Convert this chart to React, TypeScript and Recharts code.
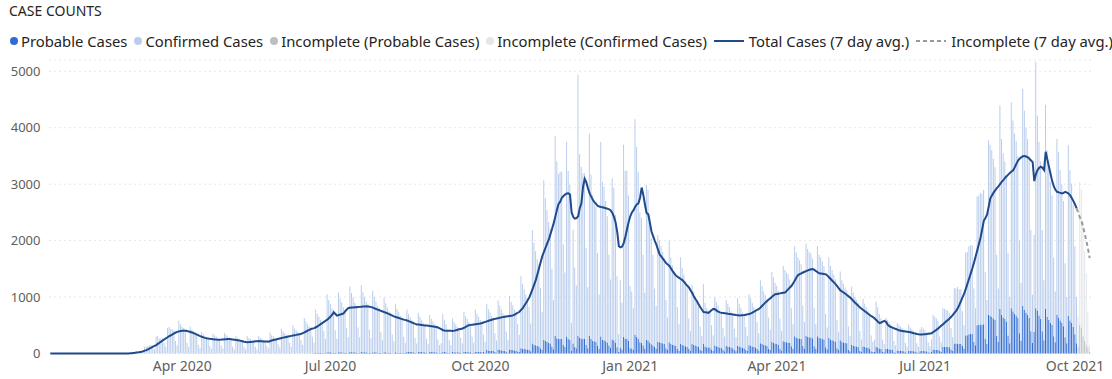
import { ComposedChart, Bar, Line, XAxis, YAxis, CartesianGrid } from "recharts";

document.body.style.margin = "0";

// one value per day, first day 2020-01-11; rows of 7 run Sat..Fri
const FIRST_DAY = Date.UTC(2020, 0, 11);

const probableCases = [
  0, 0, 0, 0, 0, 0, 0, 0, 0, 0, 0, 0, 0, 0,
  0, 0, 0, 0, 0, 0, 0, 0, 0, 0, 0, 0, 0, 0,
  0, 0, 0, 0, 0, 0, 0, 0, 0, 0, 0, 0, 0, 0,
  0, 0, 0, 0, 0, 0, 0, 0, 0, 0, 0, 0, 0, 0,
  0, 0, 0, 0, 0, 0, 0, 0, 0, 0, 0, 0, 0, 0,
  0, 0, 0, 0, 0, 0, 0, 0, 0, 0, 0, 0, 0, 0,
  0, 0, 0, 0, 0, 0, 0, 0, 0, 0, 0, 0, 0, 0,
  0, 0, 0, 0, 0, 0, 0, 0, 0, 0, 0, 0, 0, 0,
  0, 0, 0, 0, 0, 0, 0, 0, 0, 0, 0, 0, 0, 0,
  0, 0, 0, 0, 0, 0, 0, 0, 0, 0, 0, 0, 0, 0,
  0, 0, 0, 0, 0, 0, 0, 0, 0, 0, 0, 0, 0, 0,
  0, 0, 0, 0, 0, 0, 0,
  5, 5, 15, 15, 15, 10, 10,
  10, 5, 20, 20, 20, 15, 15,
  10, 5, 20, 20, 20, 15, 15,
  10, 5, 25, 20, 20, 20, 15,
  10, 5, 25, 20, 20, 20, 15,
  10, 5, 20, 20, 20, 15, 15,
  10, 5, 20, 20, 15, 15, 15,
  5, 5, 20, 15, 15, 15, 15,
  10, 10, 30, 30, 25, 25, 20,
  10, 5, 30, 25, 25, 20, 20,
  10, 5, 25, 25, 25, 20, 20,
  10, 5, 10, 30, 25, 20, 15,
  10, 5, 25, 20, 20, 20, 20,
  10, 5, 30, 25, 25, 20, 20,
  10, 10, 30, 30, 25, 25, 20,
  25, 15, 60, 55, 50, 45, 45,
  25, 15, 65, 60, 55, 50, 50,
  25, 15, 70, 65, 60, 55, 50,
  35, 25, 95, 85, 80, 75, 70,
  65, 40, 175, 155, 145, 135, 125,
  95, 60, 245, 220, 205, 185, 175,
  120, 75, 310, 270, 255, 260, 260,
  155, 115, 300, 260, 240, 45, 175,
  120, 95, 310, 280, 265, 255, 255,
  150, 95, 310, 255, 225, 215, 210,
  140, 85, 300, 245, 235, 215, 195,
  140, 105, 250, 235, 195, 110, 25,
  105, 70, 295, 260, 260, 225, 95,
  90, 65, 330, 295, 260, 200, 190,
  140, 85, 240, 230, 195, 165, 140,
  115, 85, 210, 200, 190, 180, 170,
  95, 65, 200, 170, 155, 145, 135,
  80, 50, 170, 150, 140, 130, 115,
  85, 55, 170, 155, 140, 130, 115,
  65, 45, 170, 125, 110, 105, 105,
  70, 45, 140, 130, 120, 105, 100,
  65, 40, 135, 125, 115, 105, 95,
  60, 40, 135, 125, 110, 100, 95,
  65, 45, 145, 135, 125, 115, 105,
  80, 50, 180, 170, 155, 145, 135,
  90, 60, 205, 190, 175, 170, 155,
  85, 55, 215, 205, 200, 195, 185,
  130, 85, 305, 285, 270, 265, 255,
  135, 90, 310, 295, 290, 285, 270,
  130, 85, 305, 280, 270, 260, 250,
  110, 75, 275, 250, 235, 225, 210,
  95, 60, 235, 210, 195, 185, 180,
  60, 40, 155, 140, 130, 125, 115,
  50, 35, 125, 115, 105, 100, 90,
  40, 25, 30, 120, 105, 90, 80,
  35, 20, 80, 80, 75, 70, 60,
  20, 15, 55, 50, 50, 45, 40,
  20, 10, 50, 45, 45, 40, 35,
  20, 10, 40, 45, 45, 40, 40,
  20, 15, 25, 70, 65, 60, 60,
  45, 30, 120, 120, 115, 115, 110,
  70, 45, 175, 175, 175, 170, 170,
  135, 90, 320, 325, 340, 345, 345,
  205, 145, 500, 505, 515, 510, 520,
  260, 170, 680, 665, 650, 620, 595,
  315, 205, 790, 685, 640, 610, 565,
  320, 180, 800, 745, 700, 675, 630,
  360, 225, 845, 775, 720, 685, 630,
  395, 185, 380, 800, 760, 675, 610,
  395, 235, 795, 650, 600, 545, 505,
  305, 200, 685, 640, 585, 540, 485,
  290, 180, 665, 585, 540, 475, 340,
  180,
];

const confirmedCases = [
  0, 0, 0, 0, 0, 0, 0, 0, 0, 0, 0, 0, 0, 0,
  0, 0, 0, 0, 0, 0, 0, 0, 0, 0, 0, 0, 0, 0,
  0, 0, 0, 0, 0, 0, 0, 0, 0, 0, 0, 0, 0, 0,
  0, 0, 1, 2, 3, 4, 4,
  8, 5, 30, 32, 34, 35, 38,
  40, 25, 120, 125, 135, 140, 150,
  120, 80, 300, 310, 260, 270, 270,
  180, 120, 450, 470, 440, 430, 410,
  220, 140, 580, 520, 480, 450, 424,
  190, 120, 480, 430, 400, 370, 348,
  150, 95, 380, 340, 315, 290, 278,
  135, 85, 355, 320, 295, 270, 255,
  140, 88, 365, 330, 300, 280, 261,
  120, 75, 315, 280, 260, 240, 222,
  118, 75, 305, 275, 255, 235, 221,
  115, 72, 310, 280, 255, 230, 222,
  135, 90, 370, 325, 305, 275, 264,
  165, 105, 435, 390, 360, 330, 315,
  190, 120, 500, 445, 410, 375, 354,
  240, 150, 630, 565, 520, 480, 460,
  295, 185, 765, 685, 635, 585, 555,
  390, 250, 1030, 930, 860, 785, 760,
  400, 255, 1060, 950, 880, 805, 760,
  440, 285, 1165, 1050, 970, 880, 835,
  450, 285, 1185, 1065, 980, 900, 858,
  410, 265, 1090, 980, 900, 825, 787,
  365, 235, 970, 870, 805, 735, 708,
  330, 210, 860, 775, 715, 655, 628,
  285, 180, 750, 670, 620, 565, 539,
  265, 170, 690, 625, 575, 525, 501,
  250, 160, 655, 585, 540, 495, 475,
  240, 145, 170, 670, 575, 500, 406,
  225, 145, 595, 540, 495, 455, 428,
  270, 175, 705, 635, 585, 540, 504,
  290, 180, 750, 670, 625, 570, 545,
  310, 195, 820, 735, 680, 620, 587,
  335, 215, 875, 785, 725, 665, 630,
  365, 230, 950, 850, 790, 720, 690,
  485, 305, 1275, 1145, 1060, 965, 915,
  765, 490, 2015, 1805, 1665, 1535, 1455,
  1065, 680, 2825, 2530, 2335, 2145, 2040,
  1380, 875, 3540, 3130, 2925, 2960, 2960,
  1775, 1320, 3450, 2975, 2750, 500, 2020,
  1405, 1105, 4630, 3250, 3045, 2940, 2940,
  1720, 1080, 3590, 2910, 2585, 2480, 2390,
  1640, 960, 3450, 2800, 2720, 2485, 2235,
  1610, 1205, 2855, 2695, 2265, 1260, 315,
  1195, 830, 3405, 2980, 2980, 2575, 1105,
  1010, 735, 3820, 3370, 2960, 2300, 2210,
  1610, 990, 2750, 2670, 2255, 1880, 1610,
  1035, 755, 1890, 1800, 1710, 1620, 1520,
  855, 575, 1800, 1530, 1405, 1305, 1225,
  740, 470, 1536, 1370, 1260, 1150, 1039,
  535, 345, 1048, 945, 860, 790, 717,
  415, 265, 1060, 775, 690, 655, 630,
  430, 275, 860, 782, 730, 655, 612,
  385, 260, 818, 755, 705, 645, 596,
  380, 250, 845, 755, 690, 620, 569,
  405, 265, 905, 845, 775, 715, 661,
  480, 310, 1120, 1030, 945, 885, 825,
  550, 360, 1245, 1160, 1075, 1030, 955,
  535, 345, 1335, 1275, 1230, 1205, 1125,
  670, 435, 1595, 1505, 1430, 1385, 1325,
  715, 470, 1644, 1555, 1510, 1485, 1411,
  670, 435, 1601, 1470, 1430, 1370, 1300,
  590, 385, 1431, 1300, 1245, 1175, 1104,
  495, 320, 1218, 1090, 1035, 985, 942,
  420, 270, 1033, 940, 870, 825, 778,
  350, 215, 840, 765, 715, 660, 616,
  280, 185, 220, 803, 715, 610, 547,
  215, 150, 550, 520, 485, 450, 416,
  200, 125, 487, 460, 430, 405, 383,
  170, 110, 462, 415, 385, 360, 324,
  160, 105, 384, 425, 395, 370, 336,
  180, 115, 225, 618, 585, 560, 517,
  255, 170, 680, 670, 655, 645, 610,
  380, 245, 985, 975, 1005, 970, 970,
  615, 410, 1468, 1475, 1560, 1575, 1567,
  945, 655, 2280, 2295, 2335, 2320, 2380,
  1190, 780, 3100, 3035, 2950, 2830, 2705,
  1435, 945, 3605, 3115, 2910, 2790, 2585,
  1460, 820, 3650, 3385, 3200, 3085, 2870,
  1640, 1025, 3845, 3525, 3280, 3115, 2870,
  1795, 855, 1720, 4370, 3458, 3072, 2790,
  1793, 1065, 3611, 2950, 2735, 2495, 2295,
  1395, 900, 3121, 2930, 2662, 2460, 2215,
  1310, 820, 3023, 2662, 2472, 2154, 1560,
  820,
];

// last eight days, still being reported
const incompleteProbable = [110, 510, 455, 305, 220, 160, 100, 30];
const incompleteConfirmed = [540, 2530, 2445, 2035, 1590, 1265, 650, 120];

const avgCases = [
  0, 0, 0, 0, 0, 0, 0, 0, 0, 0, 0, 0, 0, 0,
  0, 0, 0, 0, 0, 0, 0, 0, 0, 0, 0, 0, 0, 0,
  0, 0, 0, 0, 0, 0, 0, 0, 0, 0, 0, 0, 0, 0,
  0, 0, 0, 0, 0, 1, 2,
  4, 6, 9, 12, 16, 20, 26,
  32, 40, 50, 60, 75, 90, 105,
  120, 135, 150, 170, 190, 210, 230,
  250, 270, 288, 306, 323, 340, 357,
  372, 383, 392, 399, 404, 405, 402,
  397, 390, 381, 372, 360, 347, 334,
  321, 308, 296, 286, 277, 270, 264,
  259, 255, 251, 248, 246, 245, 245,
  247, 250, 252, 254, 255, 255, 252,
  248, 244, 240, 236, 232, 224, 216,
  208, 203, 200, 202, 205, 208, 212,
  215, 218, 220, 218, 216, 214, 212,
  211, 210, 222, 230, 238, 245, 252,
  260, 267, 274, 281, 288, 294, 300,
  306, 312, 318, 324, 330, 337, 342,
  350, 362, 376, 390, 405, 420, 435,
  442, 450, 465, 480, 500, 520, 540,
  560, 580, 600, 625, 655, 690, 730,
  700, 670, 680, 690, 700, 710, 745,
  780, 808, 812, 814, 816, 818, 820,
  823, 826, 829, 831, 833, 835, 834,
  830, 822, 812, 800, 788, 777, 766,
  755, 744, 733, 722, 710, 697, 684,
  671, 657, 645, 638, 628, 618, 609,
  600, 592, 585, 573, 561, 549, 537,
  525, 515, 512, 509, 505, 501, 498,
  495, 491, 487, 483, 479, 475, 470,
  460, 447, 430, 413, 408, 405, 403,
  402, 401, 400, 405, 413, 421, 429,
  436, 441, 456, 472, 489, 502, 507,
  511, 515, 519, 523, 527, 531, 540,
  550, 560, 570, 580, 590, 598, 606,
  613, 620, 627, 634, 640, 645, 650,
  655, 660, 665, 670, 675, 690, 705,
  722, 740, 772, 805, 850, 895, 945,
  990, 1065, 1140, 1220, 1300, 1405, 1510,
  1620, 1725, 1800, 1875, 1950, 2020, 2115,
  2210, 2310, 2425, 2545, 2650, 2690, 2760,
  2790, 2815, 2835, 2840, 2815, 2500, 2420,
  2390, 2400, 2430, 2575, 2660, 2950, 3095,
  3035, 2930, 2840, 2780, 2725, 2680, 2650,
  2615, 2605, 2595, 2590, 2582, 2574, 2566,
  2555, 2535, 2490, 2420, 2320, 2150, 1900,
  1880, 1895, 1960, 2070, 2200, 2330, 2430,
  2500, 2540, 2600, 2640, 2660, 2760, 2940,
  2810, 2640, 2490, 2470, 2320, 2165, 2080,
  2000, 1930, 1840, 1755, 1720, 1680, 1640,
  1600, 1575, 1550, 1505, 1460, 1420, 1380,
  1360, 1340, 1320, 1300, 1270, 1235, 1200,
  1170, 1120, 1070, 1015, 965, 920, 870,
  820, 775, 735, 730, 725, 720, 745,
  770, 790, 785, 760, 740, 728, 722,
  718, 714, 709, 704, 700, 696, 692,
  688, 683, 679, 675, 676, 678, 682,
  688, 694, 700, 712, 725, 740, 758,
  775, 790, 815, 845, 875, 905, 930,
  955, 980, 1005, 1030, 1050, 1055, 1060,
  1065, 1070, 1075, 1080, 1110, 1140, 1170,
  1200, 1245, 1295, 1345, 1390, 1405, 1420,
  1435, 1448, 1460, 1472, 1484, 1492, 1495,
  1480, 1460, 1440, 1420, 1416, 1412, 1408,
  1405, 1380, 1350, 1320, 1290, 1260, 1230,
  1195, 1155, 1118, 1099, 1080, 1058, 1035,
  1012, 990, 960, 930, 900, 872, 843,
  815, 793, 771, 749, 727, 705, 683,
  661, 645, 620, 592, 563, 540, 550,
  565, 578, 560, 510, 485, 470, 458,
  446, 434, 422, 410, 405, 400, 395,
  390, 385, 380, 375, 368, 360, 353,
  346, 340, 335, 337, 339, 342, 345,
  350, 355, 360, 380, 400, 420, 445,
  470, 495, 520, 545, 570, 595, 620,
  650, 685, 720, 755, 800, 860, 930,
  1000, 1065, 1150, 1240, 1330, 1420, 1510,
  1610, 1720, 1830, 1940, 2050, 2200, 2350,
  2400, 2460, 2600, 2750, 2800, 2850, 2890,
  2930, 2960, 3000, 3040, 3070, 3110, 3140,
  3170, 3200, 3225, 3245, 3300, 3360, 3420,
  3450, 3475, 3495, 3500, 3490, 3475, 3450,
  3420, 3390, 3055, 3180, 3250, 3290, 3310,
  3290, 3250, 3575, 3440, 3310, 3180, 3050,
  2960, 2900, 2865, 2855, 2845, 2835, 2845,
  2865, 2850, 2835, 2800, 2755, 2700, 2640,
  2570, 2490, 2410, 2340, 2240, 2120, 1990,
  1850, 1690,
];

const tickDates = ["2020-04-01", "2020-07-01", "2020-10-01", "2021-01-01", "2021-04-01", "2021-07-01", "2021-10-01"];
const tickLabels = ["Apr 2020", "Jul 2020", "Oct 2020", "Jan 2021", "Apr 2021", "Jul 2021", "Oct 2021"];
const yTicks = [0, 1000, 2000, 3000, 4000, 5000];

const COLORS = {
  probable: "#2F6CD2",
  confirmed: "#B9CDED",
  incProbable: "#BCBEC3",
  incConfirmed: "#E4E6EA",
  avg: "#1F4B8C",
  incAvg: "#9A9A9A",
};

const completeDays = confirmedCases.length;

const chartData = avgCases.map((avg, i) => {
  const done = i < completeDays;
  return {
    date: new Date(FIRST_DAY + i * 86400000).toISOString().slice(0, 10),
    probable: done ? probableCases[i] : null,
    confirmed: done ? confirmedCases[i] : null,
    incProbable: done ? null : incompleteProbable[i - completeDays],
    incConfirmed: done ? null : incompleteConfirmed[i - completeDays],
    avg: done ? avg : null,
    incAvg: i >= completeDays - 1 ? avg : null,
  };
});

const legendItems = [
  { label: "Probable Cases", color: COLORS.probable, kind: "dot" },
  { label: "Confirmed Cases", color: COLORS.confirmed, kind: "dot" },
  { label: "Incomplete (Probable Cases)", color: COLORS.incProbable, kind: "dot" },
  { label: "Incomplete (Confirmed Cases)", color: COLORS.incConfirmed, kind: "dot" },
  { label: "Total Cases (7 day avg.)", color: COLORS.avg, kind: "line" },
  { label: "Incomplete (7 day avg.)", color: COLORS.incAvg, kind: "dash" },
];

const font = "'Segoe UI', 'Noto Sans', sans-serif";

const ChartLegend = () => (
  <div
    style={{
      position: "absolute",
      left: 10,
      top: 31,
      display: "flex",
      alignItems: "center",
      fontSize: 14.8,
      lineHeight: "20px",
      color: "#252423",
      whiteSpace: "nowrap",
    }}
  >
    {legendItems.map((item) => (
      <div key={item.label} style={{ display: "flex", alignItems: "center", marginRight: 7 }}>
        {item.kind === "dot" ? (
          <span
            style={{ width: 8, height: 8, borderRadius: "50%", background: item.color, marginRight: 3 }}
          />
        ) : (
          <svg width={30} height={4} style={{ marginRight: 5 }}>
            <line
              x1={0}
              y1={2}
              x2={30}
              y2={2}
              stroke={item.color}
              strokeWidth={2}
              strokeDasharray={item.kind === "dash" ? "4 3" : undefined}
            />
          </svg>
        )}
        <span>{item.label}</span>
      </div>
    ))}
  </div>
);

export default function App() {
  return (
    <div style={{ position: "relative", width: 1112, height: 379, overflow: "hidden", fontFamily: font, background: "#fff" }}>
      <div style={{ position: "absolute", left: 9, top: 1, fontSize: 14, lineHeight: "20px", color: "#252423" }}>
        CASE COUNTS
      </div>
      <ChartLegend />
      <ComposedChart
        width={1112}
        height={379}
        data={chartData}
        margin={{ top: 60, right: 21.5, bottom: 0, left: 0 }}
        barCategoryGap="8%"
        style={{ fontFamily: font }}
      >
        <CartesianGrid vertical={false} stroke="#CFCFCF" strokeDasharray="1 4" />
        <XAxis
          dataKey="date"
          ticks={tickDates}
          interval={0}
          tickFormatter={(d: string) => tickLabels[tickDates.indexOf(d)]}
          axisLine={false}
          tickLine={false}
          height={25.5}
          tick={{ fill: "#605E5C", fontSize: 14 }}
        />
        <YAxis
          domain={[0, 5200]}
          ticks={yTicks}
          width={49.5}
          axisLine={false}
          tickLine={false}
          tickMargin={3}
          tick={{ fill: "#605E5C", fontSize: 13 }}
        />
        <Bar dataKey="probable" stackId="cases" fill={COLORS.probable} isAnimationActive={false} />
        <Bar dataKey="confirmed" stackId="cases" fill={COLORS.confirmed} isAnimationActive={false} />
        <Bar dataKey="incProbable" stackId="cases" fill={COLORS.incProbable} isAnimationActive={false} />
        <Bar dataKey="incConfirmed" stackId="cases" fill={COLORS.incConfirmed} isAnimationActive={false} />
        <Line
          dataKey="avg"
          type="linear"
          stroke={COLORS.avg}
          strokeWidth={2}
          dot={false}
          activeDot={false}
          isAnimationActive={false}
        />
        <Line
          dataKey="incAvg"
          type="linear"
          stroke={COLORS.incAvg}
          strokeWidth={2}
          strokeDasharray="4 3"
          dot={false}
          activeDot={false}
          isAnimationActive={false}
        />
      </ComposedChart>
    </div>
  );
}
